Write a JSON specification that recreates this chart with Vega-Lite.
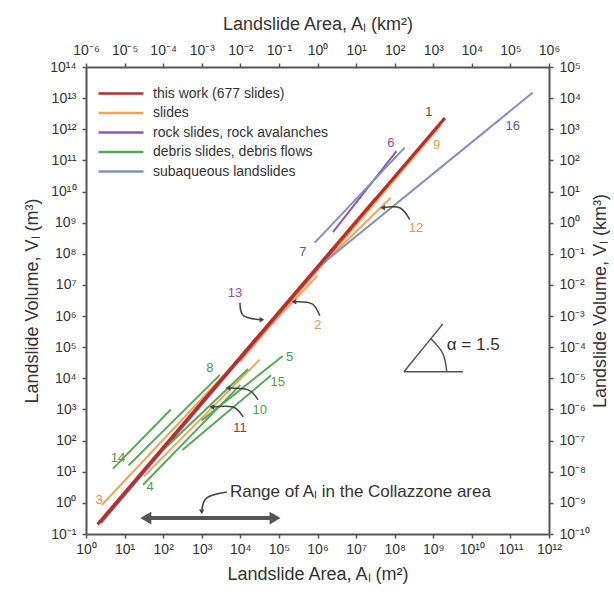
{
  "$schema": "https://vega.github.io/schema/vega-lite/v6.json",
  "width": 463,
  "height": 467,
  "autosize": {"type": "none"},
  "padding": {"left": 86, "top": 67, "right": 65, "bottom": 63},
  "background": "white",
  "config": {
    "view": {"stroke": null},
    "font": "Liberation Sans",
    "axis": {
      "grid": false,
      "domainColor": "#555555",
      "domainWidth": 2,
      "tickColor": "#555555",
      "tickWidth": 1.5,
      "tickSize": 4,
      "labelFont": "Liberation Sans",
      "labelFontSize": 14,
      "labelColor": "#333333",
      "labelOverlap": false,
      "labelFlush": false,
      "titleFont": "Liberation Sans",
      "titleFontSize": 18,
      "titleFontWeight": "normal",
      "titleColor": "#333333"
    },
    "legend": {"labelFont": "Liberation Sans"}
  },
  "datasets": {
    "lines": [
      {"id": "3", "cat": "slides", "A": 2.57, "V": 0.851},
      {"id": "3", "cat": "slides", "A": 1e6, "V": 2.0e7},
      {"id": "2", "cat": "slides", "A": 100, "V": 63.1},
      {"id": "2", "cat": "slides", "A": 3.16e7, "V": 6.31e9},
      {"id": "9", "cat": "slides", "A": 1e4, "V": 3.47e4},
      {"id": "9", "cat": "slides", "A": 1.585e9, "V": 1.35e12},
      {"id": "12", "cat": "slides", "A": 3.16e5, "V": 7.94e6},
      {"id": "12", "cat": "slides", "A": 7.94e7, "V": 6.31e9},
      {"id": "11", "cat": "slides", "A": 31.6, "V": 7.08},
      {"id": "11", "cat": "slides", "A": 3.16e4, "V": 3.98e4},
      {"id": "13", "cat": "rock slides, rock avalanches", "A": 2.45, "V": 0.224},
      {"id": "13", "cat": "rock slides, rock avalanches", "A": 3.16e6, "V": 1.78e8},
      {"id": "6", "cat": "rock slides, rock avalanches", "A": 2.51e6, "V": 5.01e8},
      {"id": "6", "cat": "rock slides, rock avalanches", "A": 1.12e8, "V": 2.0e11},
      {"id": "7", "cat": "subaqueous landslides", "A": 8.51e5, "V": 2.29e8},
      {"id": "7", "cat": "subaqueous landslides", "A": 1.82e8, "V": 2.57e11},
      {"id": "16", "cat": "subaqueous landslides", "A": 1e6, "V": 3.55e7},
      {"id": "16", "cat": "subaqueous landslides", "A": 3.8e11, "V": 1.51e13},
      {"id": "14", "cat": "debris slides, debris flows", "A": 5.01, "V": 12.6},
      {"id": "14", "cat": "debris slides, debris flows", "A": 158, "V": 1000},
      {"id": "8", "cat": "debris slides, debris flows", "A": 12.6, "V": 15.8},
      {"id": "8", "cat": "debris slides, debris flows", "A": 2951, "V": 1.29e4},
      {"id": "4", "cat": "debris slides, debris flows", "A": 30.2, "V": 3.8},
      {"id": "4", "cat": "debris slides, debris flows", "A": 1e4, "V": 6166},
      {"id": "5", "cat": "debris slides, debris flows", "A": 1000, "V": 447},
      {"id": "5", "cat": "debris slides, debris flows", "A": 1.26e5, "V": 5.25e4},
      {"id": "15", "cat": "debris slides, debris flows", "A": 316, "V": 50.1},
      {"id": "15", "cat": "debris slides, debris flows", "A": 6.31e4, "V": 1.26e4},
      {"id": "10", "cat": "debris slides, debris flows", "A": 100, "V": 50.1},
      {"id": "10", "cat": "debris slides, debris flows", "A": 1.585e4, "V": 2.0e4},
      {"id": "1", "cat": "this work (677 slides)", "A": 2, "V": 0.204},
      {"id": "1", "cat": "this work (677 slides)", "A": 2.0e9, "V": 2.29e12}
    ],
    "labels": [
      {"t": "1", "cat": "this work (677 slides)", "A": 7.7e8, "V": 3.7e12},
      {"t": "9", "cat": "slides", "A": 1.23e9, "V": 3.24e11},
      {"t": "6", "cat": "rock slides, rock avalanches", "A": 7.94e7, "V": 3.72e11},
      {"t": "16", "cat": "subaqueous landslides", "A": 1.15e11, "V": 1.23e12},
      {"t": "7", "cat": "subaqueous landslides", "A": 4.17e5, "V": 1.17e8},
      {"t": "12", "cat": "slides", "A": 3.55e8, "V": 6.9e8},
      {"t": "13", "cat": "rock slides, rock avalanches", "A": 7.24e3, "V": 5.6e6},
      {"t": "2", "cat": "slides", "A": 1.02e6, "V": 5.25e5},
      {"t": "8", "cat": "debris slides, debris flows", "A": 1622, "V": 2.19e4},
      {"t": "5", "cat": "debris slides, debris flows", "A": 1.9e5, "V": 4.9e4},
      {"t": "15", "cat": "debris slides, debris flows", "A": 9.3e4, "V": 7760},
      {"t": "10", "cat": "debris slides, debris flows", "A": 3.2e4, "V": 977},
      {"t": "11", "cat": "this work (677 slides)", "A": 9.8e3, "V": 257},
      {"t": "14", "cat": "debris slides, debris flows", "A": 6.76, "V": 27.5},
      {"t": "4", "cat": "debris slides, debris flows", "A": 45.7, "V": 3.24},
      {"t": "3", "cat": "slides", "A": 2.19, "V": 1.23}
    ],
    "arrows": [
      {"id": "a13", "k": 1, "A": 9772, "V": 2.69e6},
      {"id": "a13", "k": 2, "A": 1.23e4, "V": 1.02e6},
      {"id": "a13", "k": 3, "A": 3.63e4, "V": 7.59e5},
      {"id": "a2", "k": 1, "A": 1.148e6, "V": 1.02e6},
      {"id": "a2", "k": 2, "A": 7.08e5, "V": 2.51e6},
      {"id": "a2", "k": 3, "A": 2.45e5, "V": 2.88e6},
      {"id": "a12", "k": 1, "A": 2.45e8, "V": 1.26e9},
      {"id": "a12", "k": 2, "A": 1.35e8, "V": 3.02e9},
      {"id": "a12", "k": 3, "A": 4.9e7, "V": 3.02e9},
      {"id": "a10", "k": 1, "A": 2.88e4, "V": 2042},
      {"id": "a10", "k": 2, "A": 1.585e4, "V": 4266},
      {"id": "a10", "k": 3, "A": 4786, "V": 4898},
      {"id": "a11", "k": 1, "A": 1.175e4, "V": 575},
      {"id": "a11", "k": 2, "A": 6457, "V": 1202},
      {"id": "a11", "k": 3, "A": 1820, "V": 1202},
      {"id": "aR", "k": 1, "A": 4467, "V": 2.24},
      {"id": "aR", "k": 2, "A": 1349, "V": 1.45},
      {"id": "aR", "k": 3, "A": 1000, "V": 0.513}
    ],
    "heads": [
      {"dir": "right", "A": 3.63e4, "V": 7.59e5},
      {"dir": "left", "A": 2.45e5, "V": 2.88e6},
      {"dir": "left", "A": 4.9e7, "V": 3.02e9},
      {"dir": "left", "A": 4786, "V": 4898},
      {"dir": "left", "A": 1820, "V": 1202},
      {"dir": "down", "A": 1000, "V": 0.513}
    ],
    "range": [{"A1": 35.5, "A2": 7.94e4, "V": 0.324}],
    "rangeHeads": [
      {"dir": "left", "A": 35.5, "V": 0.324},
      {"dir": "right", "A": 7.94e4, "V": 0.324}
    ],
    "glyph": [
      {"id": "h", "k": 1, "A": 1.74e8, "V": 1.62e4},
      {"id": "h", "k": 2, "A": 5.89e9, "V": 1.62e4},
      {"id": "s", "k": 1, "A": 1.74e8, "V": 1.62e4},
      {"id": "s", "k": 2, "A": 1.78e9, "V": 5.62e5},
      {"id": "arc", "k": 1, "A": 8.71e8, "V": 1.86e5},
      {"id": "arc", "k": 2, "A": 1.78e9, "V": 6.17e4},
      {"id": "arc", "k": 3, "A": 2.24e9, "V": 1.62e4}
    ],
    "notes": [
      {"t": "α = 1.5", "A": 2.24e9, "V": 1.2e5},
      {"t": "Range of Aₗ in the Collazzone area", "A": 5370, "V": 2.24}
    ]
  },
  "resolve": {"axis": {"x": "independent", "y": "independent"}},
  "layer": [
    {
      "data": {"name": "lines"},
      "transform": [{"filter": "datum.cat != 'this work (677 slides)'"}],
      "mark": {"type": "line", "strokeWidth": 2},
      "encoding": {
        "x": {
          "field": "A", "type": "quantitative",
          "scale": {"type": "log", "domain": [1, 1e12], "nice": false},
          "axis": {
            "orient": "bottom",
            "values": [1, 10, 100, 1000, 1e4, 1e5, 1e6, 1e7, 1e8, 1e9, 1e10, 1e11, 1e12],
            "labelExpr": "'10' + (round(log(datum.value)/LN10) < 0 ? '⁻' : '') + (abs(round(log(datum.value)/LN10)) >= 10 ? '¹' : '') + substring('⁰¹²³⁴⁵⁶⁷⁸⁹', abs(round(log(datum.value)/LN10)) % 10, abs(round(log(datum.value)/LN10)) % 10 + 1)",
            "labelPadding": 4,
            "title": "Landslide Area, Aₗ (m²)",
            "titlePadding": 9
          }
        },
        "y": {
          "field": "V", "type": "quantitative",
          "scale": {"type": "log", "domain": [0.1, 1e14], "nice": false},
          "axis": {
            "orient": "left",
            "values": [0.1, 1, 10, 100, 1000, 1e4, 1e5, 1e6, 1e7, 1e8, 1e9, 1e10, 1e11, 1e12, 1e13, 1e14],
            "labelExpr": "'10' + (round(log(datum.value)/LN10) < 0 ? '⁻' : '') + (abs(round(log(datum.value)/LN10)) >= 10 ? '¹' : '') + substring('⁰¹²³⁴⁵⁶⁷⁸⁹', abs(round(log(datum.value)/LN10)) % 10, abs(round(log(datum.value)/LN10)) % 10 + 1)",
            "labelPadding": 6,
            "title": "Landslide Volume, Vₗ (m³)",
            "titlePadding": 8
          }
        },
        "detail": {"field": "id"},
        "color": {
          "field": "cat", "type": "nominal",
          "scale": {
            "domain": ["this work (677 slides)", "slides", "rock slides, rock avalanches", "debris slides, debris flows", "subaqueous landslides"],
            "range": ["#b3302b", "#f0a35a", "#8f58a8", "#5aa65a", "#8290bd"]
          },
          "legend": {
            "orient": "none", "legendX": 11, "legendY": 16,
            "title": null,
            "symbolType": "M-1,0H4", "symbolStrokeWidth": 2.5, "symbolSize": 324,
            "labelFontSize": 14, "labelColor": "#333333", "labelOffset": 35,
            "labelLimit": 400,
            "rowPadding": 1.5
          }
        }
      }
    },
    {
      "data": {"name": "lines"},
      "transform": [{"filter": "datum.cat == 'this work (677 slides)'"}],
      "mark": {"type": "line", "strokeWidth": 3.2},
      "encoding": {
        "x": {"field": "A", "type": "quantitative", "scale": {"type": "log", "domain": [1, 1e12], "nice": false}, "axis": null},
        "y": {"field": "V", "type": "quantitative", "scale": {"type": "log", "domain": [0.1, 1e14], "nice": false}, "axis": null},
        "detail": {"field": "id"},
        "color": {"field": "cat", "type": "nominal"}
      }
    },
    {
      "data": {"name": "arrows"},
      "mark": {"type": "line", "strokeWidth": 1.5, "color": "#444444", "interpolate": "natural"},
      "encoding": {
        "x": {"field": "A", "type": "quantitative", "scale": {"type": "log", "domain": [1, 1e12], "nice": false}, "axis": null},
        "y": {"field": "V", "type": "quantitative", "scale": {"type": "log", "domain": [0.1, 1e14], "nice": false}, "axis": null},
        "detail": {"field": "id"},
        "order": {"field": "k"}
      }
    },
    {
      "data": {"name": "heads"},
      "mark": {"type": "point", "filled": true, "size": 30, "color": "#444444", "opacity": 1},
      "encoding": {
        "x": {"field": "A", "type": "quantitative", "scale": {"type": "log", "domain": [1, 1e12], "nice": false}, "axis": null},
        "y": {"field": "V", "type": "quantitative", "scale": {"type": "log", "domain": [0.1, 1e14], "nice": false}, "axis": null},
        "shape": {"field": "dir", "type": "nominal", "scale": {"domain": ["left", "right", "down"], "range": ["triangle-left", "triangle-right", "triangle-down"]}, "legend": null}
      }
    },
    {
      "data": {"name": "range"},
      "mark": {"type": "rule", "strokeWidth": 4, "color": "#555555"},
      "encoding": {
        "x": {"field": "A1", "type": "quantitative", "scale": {"type": "log", "domain": [1, 1e12], "nice": false}, "axis": null},
        "x2": {"field": "A2"},
        "y": {"field": "V", "type": "quantitative", "scale": {"type": "log", "domain": [0.1, 1e14], "nice": false}, "axis": null}
      }
    },
    {
      "data": {"name": "rangeHeads"},
      "mark": {"type": "point", "filled": true, "size": 160, "color": "#555555", "opacity": 1},
      "encoding": {
        "x": {"field": "A", "type": "quantitative", "scale": {"type": "log", "domain": [1, 1e12], "nice": false}, "axis": null},
        "y": {"field": "V", "type": "quantitative", "scale": {"type": "log", "domain": [0.1, 1e14], "nice": false}, "axis": null},
        "shape": {"field": "dir", "type": "nominal", "legend": null}
      }
    },
    {
      "data": {"name": "glyph"},
      "mark": {"type": "line", "strokeWidth": 1.5, "color": "#555555", "interpolate": "natural"},
      "encoding": {
        "x": {"field": "A", "type": "quantitative", "scale": {"type": "log", "domain": [1, 1e12], "nice": false}, "axis": null},
        "y": {"field": "V", "type": "quantitative", "scale": {"type": "log", "domain": [0.1, 1e14], "nice": false}, "axis": null},
        "detail": {"field": "id"},
        "order": {"field": "k"}
      }
    },
    {
      "data": {"name": "labels"},
      "mark": {"type": "text", "fontSize": 13, "font": "Liberation Sans"},
      "encoding": {
        "x": {"field": "A", "type": "quantitative", "scale": {"type": "log", "domain": [1, 1e12], "nice": false}, "axis": null},
        "y": {"field": "V", "type": "quantitative", "scale": {"type": "log", "domain": [0.1, 1e14], "nice": false}, "axis": null},
        "text": {"field": "t"},
        "fill": {
          "field": "cat", "type": "nominal",
          "scale": {
            "domain": ["this work (677 slides)", "slides", "rock slides, rock avalanches", "debris slides, debris flows", "subaqueous landslides"],
            "range": ["#a8302e", "#e8924a", "#9a4a98", "#4e9a4e", "#5e5ea2"]
          },
          "legend": null
        }
      }
    },
    {
      "data": {"name": "notes"},
      "mark": {"type": "text", "fontSize": 17, "font": "Liberation Sans", "align": "left", "baseline": "middle", "color": "#333333"},
      "encoding": {
        "x": {
          "field": "A", "type": "quantitative",
          "scale": {"type": "log", "domain": [1, 1e12], "nice": false},
          "axis": {
            "orient": "top",
            "values": [1, 10, 100, 1000, 1e4, 1e5, 1e6, 1e7, 1e8, 1e9, 1e10, 1e11, 1e12],
            "labelExpr": "'10' + (round(log(datum.value)/LN10) - 6 < 0 ? '⁻' : '') + (abs(round(log(datum.value)/LN10) - 6) >= 10 ? '¹' : '') + substring('⁰¹²³⁴⁵⁶⁷⁸⁹', abs(round(log(datum.value)/LN10) - 6) % 10, abs(round(log(datum.value)/LN10) - 6) % 10 + 1)",
            "labelPadding": 6,
            "title": "Landslide Area, Aₗ (km²)",
            "titlePadding": 10
          }
        },
        "y": {
          "field": "V", "type": "quantitative",
          "scale": {"type": "log", "domain": [0.1, 1e14], "nice": false},
          "axis": {
            "orient": "right",
            "values": [0.1, 1, 10, 100, 1000, 1e4, 1e5, 1e6, 1e7, 1e8, 1e9, 1e10, 1e11, 1e12, 1e13, 1e14],
            "labelExpr": "'10' + (round(log(datum.value)/LN10) - 9 < 0 ? '⁻' : '') + (abs(round(log(datum.value)/LN10) - 9) >= 10 ? '¹' : '') + substring('⁰¹²³⁴⁵⁶⁷⁸⁹', abs(round(log(datum.value)/LN10) - 9) % 10, abs(round(log(datum.value)/LN10) - 9) % 10 + 1)",
            "labelPadding": 6,
            "title": "Landslide Volume, Vₗ (km³)",
            "titleAngle": 270,
            "titleBaseline": "top",
            "titlePadding": 2
          }
        },
        "text": {"field": "t"}
      }
    }
  ]
}
